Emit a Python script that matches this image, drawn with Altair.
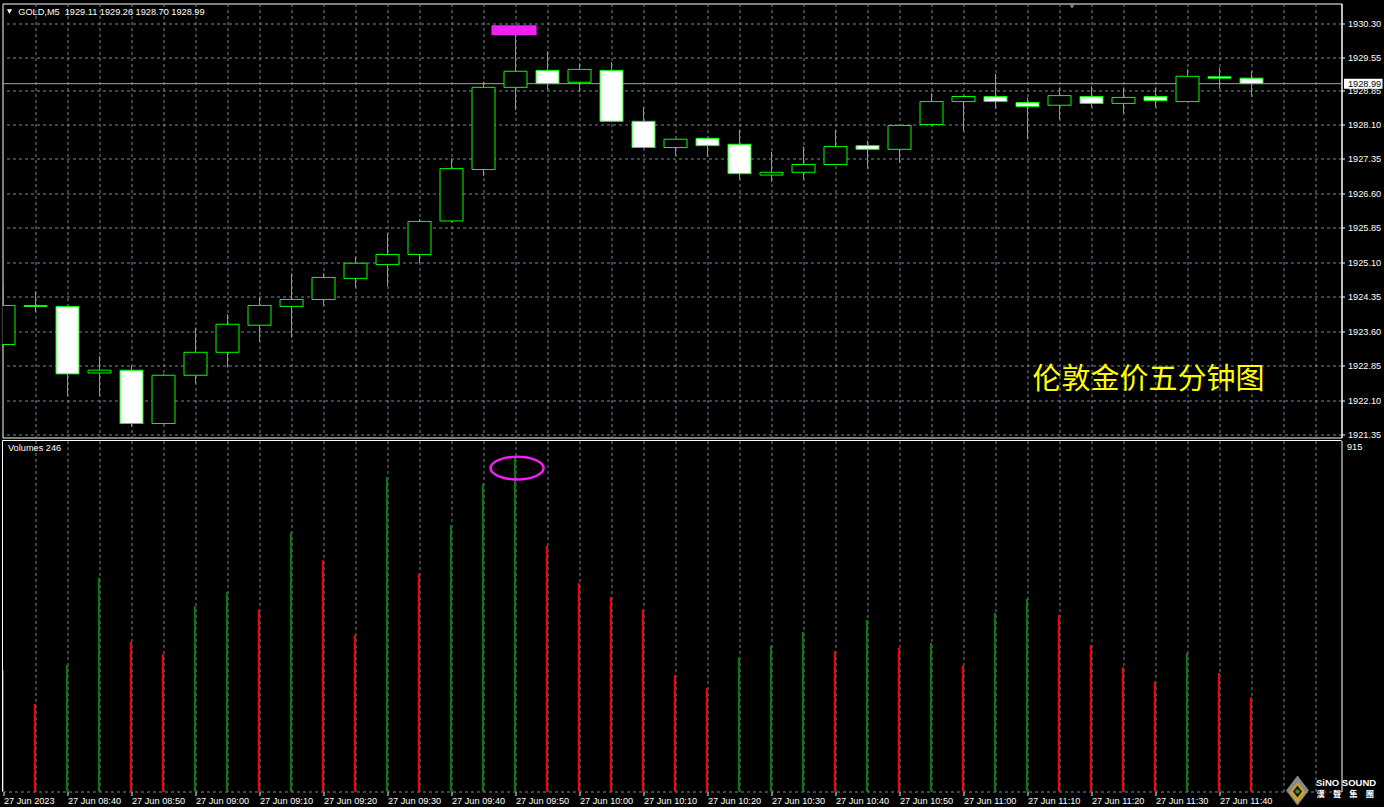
import altair as alt
import pandas as pd

# GOLD 5-minute bars, 27 Jun 2023, 08:30 .. 11:45
SYMBOL = "GOLD,M5"
TITLE = "伦敦金价五分钟图"

OPEN = [1923.31, 1924.16, 1924.14, 1922.69, 1922.75, 1921.59, 1922.64, 1923.14, 1923.73, 1924.14,
        1924.29, 1924.75, 1925.05, 1925.27, 1926.00, 1927.12, 1928.91, 1929.28, 1929.02, 1929.28,
        1928.17, 1927.60, 1927.80, 1927.67, 1927.00, 1927.06, 1927.23, 1927.64, 1927.56, 1928.10,
        1928.60, 1928.71, 1928.58, 1928.52, 1928.71, 1928.56, 1928.71, 1928.60, 1929.14, 1929.11]
HIGH = [1924.58, 1924.47, 1924.15, 1923.06, 1922.85, 1922.67, 1923.68, 1923.97, 1924.34, 1924.86,
        1924.86, 1925.22, 1925.73, 1926.04, 1927.36, 1929.03, 1930.20, 1929.70, 1929.43, 1929.46,
        1928.47, 1927.79, 1927.82, 1927.99, 1927.51, 1927.62, 1927.99, 1927.75, 1928.10, 1928.78,
        1928.73, 1929.20, 1928.69, 1928.91, 1928.93, 1928.91, 1928.91, 1929.30, 1929.34, 1929.26]
LOW = [1923.25, 1924.02, 1922.19, 1922.19, 1921.52, 1921.57, 1922.46, 1922.81, 1923.37, 1923.46,
       1924.16, 1924.55, 1924.58, 1925.08, 1925.97, 1926.98, 1928.41, 1928.86, 1928.81, 1928.15,
       1927.58, 1927.42, 1927.40, 1926.90, 1926.85, 1926.90, 1927.22, 1927.13, 1927.27, 1928.08,
       1927.95, 1928.45, 1927.78, 1928.21, 1928.47, 1928.34, 1928.47, 1928.59, 1928.89, 1928.70]
CLOSE = [1924.16, 1924.14, 1922.67, 1922.75, 1921.59, 1922.64, 1923.14, 1923.75, 1924.16, 1924.29,
         1924.77, 1925.08, 1925.27, 1925.99, 1927.14, 1928.91, 1929.26, 1928.99, 1929.30, 1928.17,
         1927.60, 1927.78, 1927.64, 1927.03, 1927.06, 1927.23, 1927.62, 1927.56, 1928.08, 1928.60,
         1928.71, 1928.60, 1928.49, 1928.73, 1928.56, 1928.69, 1928.62, 1929.15, 1929.11, 1928.99]
VOLUME = [316, 228, 330, 557, 390, 358, 483, 521, 474, 675, 603, 408, 820, 568, 695, 803, 870, 640,
          543, 507, 474, 303, 270, 349, 380, 416, 366, 448, 375, 387, 328, 465, 502, 460, 382, 324,
          286, 361, 309, 246]

# one label per 10 minutes, i.e. every second bar
TIME_LABELS = ["27 Jun 2023", "27 Jun 08:40", "27 Jun 08:50", "27 Jun 09:00", "27 Jun 09:10",
               "27 Jun 09:20", "27 Jun 09:30", "27 Jun 09:40", "27 Jun 09:50", "27 Jun 10:00",
               "27 Jun 10:10", "27 Jun 10:20", "27 Jun 10:30", "27 Jun 10:40", "27 Jun 10:50",
               "27 Jun 11:00", "27 Jun 11:10", "27 Jun 11:20", "27 Jun 11:30", "27 Jun 11:40"]
PRICE_TICKS = [1930.30, 1929.55, 1928.85, 1928.10, 1927.35, 1926.60, 1925.85,
               1925.10, 1924.35, 1923.60, 1922.85, 1922.10, 1921.35]
VOLUME_TICKS = [915]

# marked high of the 09:50 bar and its volume
HIGHLIGHT_BOX = pd.DataFrame({"i0": [15.25], "i1": [16.66], "p0": [1930.045], "p1": [1930.26]})
HIGHLIGHT_RING = pd.DataFrame({"i": [16.05], "v": [843]})

# ---------------------------------------------------------------- tables
n = len(OPEN)
bars = pd.DataFrame({"i": list(range(n)), "open": OPEN, "high": HIGH, "low": LOW,
                     "close": CLOSE, "volume": VOLUME})
up = [True] + [VOLUME[k] > VOLUME[k - 1] for k in range(1, n)]
bars["vcolor"] = ["#008000" if u else "#FF0000" for u in up]
last = bars.tail(1).copy()
last["header"] = (f"{SYMBOL}\u00a0 {OPEN[-1]:.2f} {HIGH[-1]:.2f} "
                  f"{LOW[-1]:.2f} {CLOSE[-1]:.2f}")
last["vlabel"] = f"Volumes {VOLUME[-1]}"
one = pd.DataFrame({"k": [0]})

# ---------------------------------------------------------------- styling
W, H_PRICE, H_VOL = 1339, 434, 351
GRID = "#778899"
LIME = "#00FF00"
MAGENTA = "#F020F0"
FONT = "Liberation Sans"
FS = 9.2

X_SCALE = alt.Scale(domain=[-1 / 32, 1338 / 32], nice=False, zero=False, padding=0)
PRICE_SCALE = alt.Scale(domain=[1921.2847, 1930.7355], nice=False, zero=False, padding=0)
VOL_SCALE = alt.Scale(domain=[0, max(VOLUME_TICKS)], nice=False, zero=False, padding=0)

grid_values = list(range(42))
hide_first = {"condition": {"test": "datum.value === 0", "value": 0}, "value": 1}
labelled = f"datum.value % 2 === 0 && datum.value / 2 < {len(TIME_LABELS)}"
labels_js = "[" + ",".join("'" + s + "'" for s in TIME_LABELS) + "]"
label_expr = f"{labelled} ? {labels_js}[datum.value / 2] : ''"

price_x_axis = alt.Axis(values=grid_values, tickCount=len(grid_values), grid=True,
                        gridColor=GRID, gridDash=[3, 3], gridOpacity=hide_first,
                        labels=False, ticks=False, domain=False, title=None)
price_y_axis = alt.Axis(orient="right", values=PRICE_TICKS, tickCount=len(PRICE_TICKS),
                        format=".2f", grid=True, gridColor=GRID, gridDash=[3, 3],
                        domainColor="white", tickColor="white", tickSize=3,
                        labelColor="white", labelPadding=3, labelFlush=False,
                        labelOverlap=False, title=None)

vol_x_axis = alt.Axis(values=grid_values, tickCount=len(grid_values), grid=True,
                      gridColor=GRID, gridDash=[3, 3], gridOpacity=hide_first,
                      domainColor=GRID, domainDash=[3, 3],
                      tickColor="white", tickSize=4,
                      tickOpacity={"condition": {"test": labelled, "value": 1}, "value": 0},
                      labelExpr=label_expr, labelAlign="left", labelBaseline="top",
                      labelPadding=1, labelColor="white", labelFlush=False,
                      labelOverlap=False, title=None)
vol_y_axis = alt.Axis(orient="right", values=VOLUME_TICKS, grid=False, ticks=False,
                      domainColor="white", labelColor="white", labelBaseline="top",
                      labelPadding=5, labelOffset=2, labelFlush=False, title=None)

# ---------------------------------------------------------------- price panel
wicks = alt.Chart(bars).mark_rule(color=LIME, strokeWidth=1, clip=True).encode(
    x=alt.X("i:Q", scale=X_SCALE, axis=price_x_axis),
    y=alt.Y("low:Q", scale=PRICE_SCALE, axis=price_y_axis),
    y2="high:Q",
)
price_line = alt.Chart(last).mark_rule(color="#A0A0A0", strokeWidth=1).encode(y="close:Q")
bodies = alt.Chart(bars).mark_bar(size=23, stroke=LIME, strokeWidth=1, clip=True).encode(
    x="i:Q",
    y="open:Q",
    y2="close:Q",
    fill=alt.condition("datum.close > datum.open", alt.value("#000000"), alt.value("#FFFFFF")),
)
box = alt.Chart(HIGHLIGHT_BOX).mark_rect(color=MAGENTA).encode(
    x="i0:Q", x2="i1:Q", y="p0:Q", y2="p1:Q")

header_arrow = alt.Chart(one).mark_point(shape="triangle-down", filled=True, color="white",
                                         size=26, opacity=1).encode(
    x=alt.value(7), y=alt.value(8))
header = alt.Chart(last).mark_text(align="left", baseline="middle", color="white",
                                   font=FONT, fontSize=FS).encode(
    x=alt.value(15.8), y=alt.value(8), text="header:N")
shift_marker = alt.Chart(one).mark_point(shape="triangle-down", filled=True, color="#808080",
                                         size=30, opacity=1).encode(
    x=alt.value(1069.5), y=alt.value(3))
title = alt.Chart(one).mark_text(text=TITLE, align="center", baseline="middle",
                                 color="#FFFF00", font="Noto Sans CJK SC", fontSize=29).encode(
    x=alt.value(1146), y=alt.value(376.5))
price_tag = alt.Chart(last).mark_rect(color="white", yOffset=-5, y2Offset=5).encode(
    x=alt.value(1341.5), x2=alt.value(1380), y="close:Q", y2="close:Q")
price_tag_text = alt.Chart(last).mark_text(align="left", baseline="middle", color="black",
                                           font=FONT, fontSize=FS).encode(
    x=alt.value(1345.5), y="close:Q", text=alt.Text("close:Q", format=".2f"))

price_panel = alt.layer(
    wicks, price_line, bodies, box, header_arrow, header, shift_marker, title,
    price_tag, price_tag_text,
).properties(width=W, height=H_PRICE, view=alt.ViewBackground(stroke="white", strokeWidth=1))

# ---------------------------------------------------------------- volume panel
vol_bars = alt.Chart(bars).mark_rule(strokeWidth=2, xOffset=-0.5).encode(
    x=alt.X("i:Q", scale=X_SCALE, axis=vol_x_axis),
    y=alt.Y("volume:Q", scale=VOL_SCALE, axis=vol_y_axis),
    y2=alt.datum(0),
    color=alt.Color("vcolor:N", scale=None),
)
left_edge = alt.Chart(one).mark_rule(color="white", strokeWidth=1).encode(
    x=alt.value(0), y=alt.value(0), y2=alt.value(H_VOL))
top_edge = alt.Chart(one).mark_rule(color="white", strokeWidth=1).encode(
    x=alt.value(0), x2=alt.value(W), y=alt.value(0))

ELLIPSE = ("M -1 0 C -1 -0.2374 -0.552 -0.43 0 -0.43 C 0.552 -0.43 1 -0.2374 1 0 "
           "C 1 0.2374 0.552 0.43 0 0.43 C -0.552 0.43 -1 0.2374 -1 0 Z")
ring = alt.Chart(HIGHLIGHT_RING).mark_point(shape=ELLIPSE, size=53 ** 2, filled=False,
                                            color=MAGENTA, strokeWidth=2.5, opacity=1).encode(
    x="i:Q", y="v:Q")
vol_label = alt.Chart(last).mark_text(align="left", baseline="middle", color="white",
                                      font=FONT, fontSize=FS).encode(
    x=alt.value(5.5), y=alt.value(7.5), text="vlabel:N")

# brand mark in the bottom-right corner
DIAMOND = "M 0 -1 L 0.76 0 L 0 1 L -0.76 0 Z"
logo_outer = alt.Chart(one).mark_point(shape=DIAMOND, size=30 ** 2, filled=True,
                                       color="#8a8a8a", opacity=1).encode(
    x=alt.value(1295), y=alt.value(350))
logo_gold = alt.Chart(one).mark_point(shape=DIAMOND, size=21 ** 2, filled=True,
                                      color="#C9A227", opacity=1).encode(
    x=alt.value(1295), y=alt.value(352))
logo_core = alt.Chart(one).mark_point(shape=DIAMOND, size=12 ** 2, filled=True,
                                      color="#1a1a1a", opacity=1).encode(
    x=alt.value(1295), y=alt.value(351))
logo_dot = alt.Chart(one).mark_point(shape="circle", size=18, filled=True,
                                     color="#3f8f2f", opacity=1).encode(
    x=alt.value(1295), y=alt.value(351))
logo_name = alt.Chart(one).mark_text(text="SiNO SOUND", align="left", baseline="middle",
                                     color="white", font=FONT, fontSize=9.5,
                                     fontWeight="bold").encode(
    x=alt.value(1313.5), y=alt.value(342.5))
logo_cn = alt.Chart(one).mark_text(text="漢\u3000聲\u3000集\u3000團", align="left",
                                   baseline="middle", color="white",
                                   font="Noto Sans CJK TC", fontSize=8.2,
                                   fontWeight="bold").encode(
    x=alt.value(1314), y=alt.value(354))

volume_panel = alt.layer(
    vol_bars, left_edge, top_edge, ring, vol_label,
    logo_outer, logo_gold, logo_core, logo_dot, logo_name, logo_cn,
).properties(width=W, height=H_VOL)

chart = alt.vconcat(price_panel, volume_panel, spacing=3, bounds="flush").properties(
    padding={"left": 1.5, "top": 2.5, "right": 0, "bottom": 0},
    background="#000000",
).configure_view(
    stroke="transparent",
).configure_axis(
    labelFont=FONT, labelFontSize=FS,
)

chart.save("out.html", embed_options={"renderer": "svg", "actions": False})
